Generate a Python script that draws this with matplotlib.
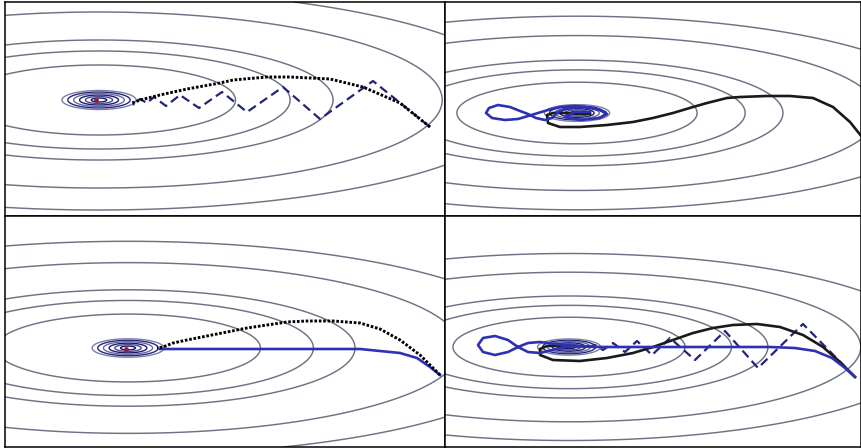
import numpy as np
import matplotlib
matplotlib.use('Agg')
import matplotlib.pyplot as plt

W, H = 862, 448

# panel boxes in image pixels: left, right, top, bottom
panels = {
    'tl': (5, 445, 2, 216),
    'tr': (445, 861, 2, 216),
    'bl': (5, 445, 216, 447),
    'br': (445, 861, 216, 447),
}
# bowl centre and zoom seen in each panel
centres = {'tl': (99, 100), 'tr': (577, 113), 'bl': (128, 348), 'br': (569, 347)}
scales = {'tl': 1.0, 'tr': 0.88, 'bl': 0.97, 'br': 0.85}

aspect = 3.9
outer_levels = [35, 49, 60, 88, 110]
inner_levels = [2, 3.5, 5, 6.5, 8, 9.5]
inner_colors = ['#15156a', '#4a4c8e', '#1c1c78', '#6a6c9c', '#262684', '#7c7ea6']

# top left: dotted black vs dashed blue
tl_dot_x = [430, 400, 363, 330, 290, 267, 233, 220, 187, 160, 140, 132]
tl_dot_y = [127, 103, 87, 79, 77, 77, 80, 83, 89, 95, 100, 103]
tl_dash_x = [430, 373, 320, 283, 247, 222, 199, 180, 166, 154, 147, 140, 133]
tl_dash_y = [127, 81, 119, 87, 112, 92, 108, 95, 106, 97, 103, 99, 105]

# top right: solid black vs blue loop
tr_black_x = [862, 850, 833, 813, 790, 767, 740, 727, 707, 693, 673, 653, 633, 607,
              580, 560, 548, 547, 553, 567, 590]
tr_black_y = [137, 122, 107, 98, 96, 96, 97, 98, 103, 107, 113, 118, 122, 125,
              127, 127, 123, 115, 113, 113, 114]
tr_blue_x = [605, 595, 575, 560, 548, 538, 528, 518, 505, 492, 486, 489, 498, 510,
             520, 528, 536, 545, 552, 558, 568, 585, 600, 607, 600, 580, 565, 575, 590]
tr_blue_y = [112, 108, 106, 107, 110, 113, 116, 119, 120, 118, 113, 108, 105, 107,
             111, 114, 118, 120, 118, 112, 108, 107, 110, 114, 118, 120, 117, 112, 112]

# bottom left: dotted black vs solid blue
bl_dot_x = [440, 420, 400, 380, 360, 333, 307, 287, 267, 247, 227, 207, 187, 173, 163, 157]
bl_dot_y = [375, 355, 340, 329, 323, 321, 321, 322, 325, 328, 332, 336, 340, 343, 347, 348]
bl_blue_x = [440, 430, 417, 400, 380, 360, 333, 267, 200, 160]
bl_blue_y = [375, 367, 358, 353, 351, 349, 349, 349, 349, 349]

# bottom right: all three together
br_black_x = [855, 840, 823, 803, 780, 757, 733, 713, 693, 673, 653, 633, 607, 580,
              553, 540, 540, 547, 573]
br_black_y = [377, 362, 347, 335, 327, 324, 325, 328, 333, 340, 347, 353, 358, 361,
              360, 355, 349, 346, 346]
br_blue_x = [855, 845, 832, 815, 795, 770, 700, 640, 600, 575, 555, 540, 528, 518,
             508, 495, 483, 478, 483, 495, 508, 518, 528, 540, 552, 565, 580, 595]
br_blue_y = [377, 368, 358, 351, 348, 347, 347, 347, 347, 346, 344, 342, 343, 347,
             352, 355, 352, 345, 338, 336, 340, 347, 352, 353, 350, 347, 346, 347]
br_dash_x = [855, 803, 758, 725, 695, 670, 652, 637, 625, 613, 603, 595, 585]
br_dash_y = [377, 324, 368, 331, 360, 338, 355, 341, 352, 343, 350, 345, 348]

min_x = {'tl': 96, 'bl': 126}
min_y = {'tl': 100, 'bl': 349}

NAVY = '#23237c'
BLUE = '#2d31b4'
GRAY = '#6f7284'

fig = plt.figure(figsize=(W / 100, H / 100), dpi=100)
axes = {}
for key, (x0, x1, y0, y1) in panels.items():
    ax = fig.add_axes([x0 / W, 1 - y1 / H, (x1 - x0) / W, (y1 - y0) / H])
    ax.set_xlim(x0, x1)
    ax.set_ylim(y1, y0)
    ax.set_xticks([])
    ax.set_yticks([])
    for s in ax.spines.values():
        s.set_linewidth(1.1)
        s.set_color('black')
    cx, cy = centres[key]
    sc = scales[key]
    X, Y = np.meshgrid(np.linspace(x0, x1, 700), np.linspace(y0, y1, 400))
    Z = ((X - cx) / (aspect * sc)) ** 2 + ((Y - cy) / sc) ** 2
    ax.contour(X, Y, Z, levels=np.array(outer_levels) ** 2, colors=GRAY, linewidths=1.05)
    ax.contour(X, Y, Z, levels=np.array(inner_levels) ** 2, colors=inner_colors,
               linewidths=1.0)
    axes[key] = ax

ax = axes['tl']
ax.plot(tl_dash_x, tl_dash_y, color=NAVY, lw=1.6, dashes=(4, 2.2))
ax.plot(tl_dot_x, tl_dot_y, color='black', lw=2.1, dashes=(0.9, 0.6))

ax = axes['tr']
ax.plot(tr_black_x, tr_black_y, color='#1a1a1a', lw=1.9)
ax.plot(tr_blue_x, tr_blue_y, color=BLUE, lw=1.9)

ax = axes['bl']
ax.plot(bl_blue_x, bl_blue_y, color=BLUE, lw=1.9)
ax.plot(bl_dot_x, bl_dot_y, color='black', lw=2.1, dashes=(0.9, 0.6))

ax = axes['br']
ax.plot(br_dash_x, br_dash_y, color=NAVY, lw=1.6, dashes=(4, 2.2))
ax.plot(br_black_x, br_black_y, color='#1a1a1a', lw=1.9)
ax.plot(br_blue_x, br_blue_y, color=BLUE, lw=1.9)

for key in min_x:
    axes[key].plot(min_x[key], min_y[key], 'o', color='#8b2040', ms=2.5)

fig.savefig('out.png', dpi=100)
